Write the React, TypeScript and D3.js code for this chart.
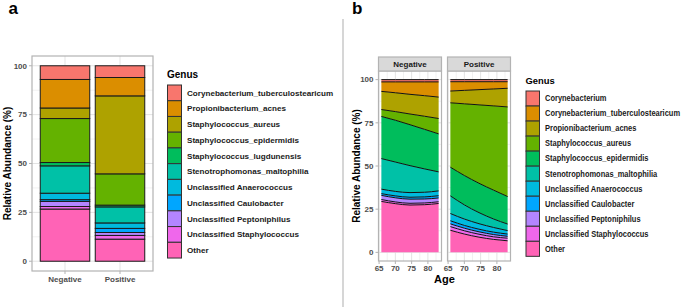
import React, { useLayoutEffect, useRef, useState } from 'react';
import * as d3 from 'd3';

const FONT = '"Liberation Sans", Arial, Helvetica, sans-serif';

// ---------- Panel a data ----------
const groupsA = ['Negative', 'Positive'];
const genusA = [
  'Corynebacterium_tuberculostearicum',
  'Propionibacterium_acnes',
  'Staphylococcus_aureus',
  'Staphylococcus_epidermidis',
  'Staphylococcus_lugdunensis',
  'Stenotrophomonas_maltophilia',
  'Unclassified Anaerococcus',
  'Unclassified Caulobacter',
  'Unclassified Peptoniphilus',
  'Unclassified Staphylococcus',
  'Other',
];
const negativeA = [7.0, 14.6, 5.4, 22.5, 1.7, 14.0, 3.3, 0.9, 2.6, 1.3, 26.7];
const positiveA = [6.0, 9.4, 39.9, 16.0, 0.9, 8.2, 2.8, 2.1, 1.5, 1.9, 11.3];

// ---------- Panel b data ----------
const facetsB = ['Negative', 'Positive'];
const genusB = [
  'Corynebacterium',
  'Corynebacterium_tuberculostearicum',
  'Propionibacterium_acnes',
  'Staphylococcus_aureus',
  'Staphylococcus_epidermidis',
  'Stenotrophomonas_maltophilia',
  'Unclassified Anaerococcus',
  'Unclassified Caulobacter',
  'Unclassified Peptoniphilus',
  'Unclassified Staphylococcus',
  'Other',
];
const ages = [65.7, 70, 74.5, 79, 83.3];
// one row per genus (genusB order), one value per age
const negativeB = [
  [1.3, 1.3, 1.3, 1.3, 1.3],
  [5.5, 6.3, 7.2, 8.0, 8.8],
  [10.5, 10.9, 11.4, 11.9, 12.4],
  [4.0, 5.0, 6.2, 7.6, 8.9],
  [24.4, 24.2, 23.7, 22.9, 22.0],
  [17.7, 17.0, 15.6, 13.5, 11.0],
  [2.6, 2.6, 2.7, 2.7, 2.8],
  [1.0, 1.1, 1.1, 1.2, 1.3],
  [2.4, 2.4, 2.4, 2.3, 2.2],
  [1.1, 1.0, 1.0, 1.0, 1.0],
  [29.5, 28.2, 27.4, 27.6, 28.3],
];
const positiveB = [
  [1.2, 1.2, 1.2, 1.2, 1.2],
  [5.4, 5.0, 4.6, 4.2, 3.8],
  [6.8, 7.8, 8.8, 9.8, 10.8],
  [37.3, 41.5, 45.4, 48.8, 51.9],
  [16.6, 17.0, 17.0, 16.7, 15.9],
  [10.2, 8.2, 6.4, 4.9, 3.8],
  [4.2, 3.7, 3.2, 2.7, 2.0],
  [1.8, 1.6, 1.5, 1.4, 1.3],
  [1.6, 1.5, 1.4, 1.3, 1.1],
  [2.1, 1.9, 1.7, 1.5, 1.5],
  [12.8, 10.6, 8.8, 7.5, 6.7],
];

const yTicks = [0, 25, 50, 75, 100];
const yMinor = [12.5, 37.5, 62.5, 87.5];
const ageTicks = [65, 70, 75, 80];
const ageMinor = [67.5, 72.5, 77.5, 82.5];

const palette = ['#F8766D', '#DB8E00', '#AEA200', '#64B200', '#00BD5C', '#00C1A7', '#00BADE', '#00A6FF', '#B385FF', '#EF67EB', '#FF63B6'];

const GRID = '#E3E3E3';
const BORDER = '#B3B3B3';
const TICKTXT = '#4D4D4D';

function Legend({ x, y, title, titleSize, keys, keyH, keyW, fontSize, maxRight = 10000 }: any) {
  const color = d3.scaleOrdinal<string, string>().domain(keys).range(palette);
  const lx = x + keyW + 6;
  const gRef = useRef<SVGGElement>(null);
  const [stretch, setStretch] = useState(1);
  useLayoutEffect(() => {
    if (!gRef.current) return;
    const texts = Array.from(gRef.current.querySelectorAll('text')) as SVGTextElement[];
    const w = Math.max(...texts.map((t) => t.getComputedTextLength()));
    if (w > 0) setStretch(Math.min(1, (maxRight - lx) / w));
  }, [maxRight, lx]);
  return (
    <g>
      <text x={x} y={y} fontSize={titleSize} fontWeight="bold" fill="#000" fontFamily={FONT}>{title}</text>
      {keys.map((k: string, i: number) => (
        <rect key={'r' + k} x={x + 0.5} y={y + 7 + i * keyH} width={keyW} height={keyH} fill={color(k)} stroke="#333" strokeWidth={1} />
      ))}
      <g ref={gRef} transform={`translate(${lx},0) scale(${stretch},1)`}>
        {keys.map((k: string, i: number) => (
          <text key={k} x={0} y={y + 7 + i * keyH + keyH / 2} dy="0.35em" fontSize={fontSize} fontWeight="bold" fill="#1a1a1a" fontFamily={FONT}>{k}</text>
        ))}
      </g>
    </g>
  );
}

function PanelA() {
  const x0 = 32, x1 = 153, yTop = 56, yBot = 271;
  const x = d3.scaleLinear().domain([0.4, 2.6]).range([x0, x1]);
  const y = d3.scaleLinear().domain([-5, 105]).range([yBot, yTop]);
  const color = d3.scaleOrdinal<string, string>().domain(genusA).range(palette);
  const rows = groupsA.map((g, gi) => {
    const vals = gi === 0 ? negativeA : positiveA;
    const r: any = { group: g };
    genusA.forEach((k, i) => (r[k] = vals[i]));
    return r;
  });
  const stack = d3.stack<any>().keys([...genusA].reverse());
  const series = stack(rows);
  const bw = 0.9;
  return (
    <g>
      <rect x={x0} y={yTop} width={x1 - x0} height={yBot - yTop} fill="#fff" />
      {yMinor.map((t) => <line key={'m' + t} x1={x0} x2={x1} y1={y(t)} y2={y(t)} stroke={GRID} strokeWidth={0.5} />)}
      {yTicks.map((t) => <line key={'M' + t} x1={x0} x2={x1} y1={y(t)} y2={y(t)} stroke={GRID} strokeWidth={1} />)}
      {groupsA.map((g, i) => <line key={g} x1={x(i + 1)} x2={x(i + 1)} y1={yTop} y2={yBot} stroke={GRID} strokeWidth={1} />)}
      {series.map((s) => (
        <g key={s.key}>
          {s.map((d, i) => (
            <rect key={i} x={x(i + 1 - bw / 2)} width={x(i + 1 + bw / 2) - x(i + 1 - bw / 2)} y={y(d[1])} height={y(d[0]) - y(d[1])} fill={color(s.key)} stroke="#1a1a1a" strokeWidth={1} />
          ))}
        </g>
      ))}
      <rect x={x0} y={yTop} width={x1 - x0} height={yBot - yTop} fill="none" stroke={BORDER} strokeWidth={1.2} />
      {yTicks.map((t) => (
        <g key={t}>
          <line x1={x0 - 3} x2={x0} y1={y(t)} y2={y(t)} stroke={BORDER} />
          <text x={x0 - 5} y={y(t)} dy="0.35em" textAnchor="end" fontSize={8} fontWeight="bold" fill={TICKTXT} fontFamily={FONT}>{t}</text>
        </g>
      ))}
      {groupsA.map((g, i) => (
        <g key={g}>
          <line x1={x(i + 1)} x2={x(i + 1)} y1={yBot} y2={yBot + 3} stroke={BORDER} />
          <text x={x(i + 1)} y={yBot + 11} textAnchor="middle" fontSize={8} fontWeight="bold" fill={TICKTXT} fontFamily={FONT}>{g}</text>
        </g>
      ))}
      <text transform={`translate(11,${(yTop + yBot) / 2}) rotate(-90)`} textAnchor="middle" fontSize={10} fontWeight="bold" fill="#000" fontFamily={FONT}>Relative Abundance (%)</text>
    </g>
  );
}

function PanelB() {
  const yTop = 71, yBot = 261, stripTop = 57;
  const panels = [
    { x0: 378.5, x1: 441.5 },
    { x0: 447.5, x1: 510.5 },
  ];
  const ext = d3.extent(ages) as [number, number];
  const pad = (ext[1] - ext[0]) * 0.05;
  const y = d3.scaleLinear().domain([-5, 105]).range([yBot, yTop]);
  const color = d3.scaleOrdinal<string, string>().domain(genusB).range(palette);
  return (
    <g>
      {facetsB.map((f, fi) => {
        const { x0, x1 } = panels[fi];
        const x = d3.scaleLinear().domain([ext[0] - pad, ext[1] + pad]).range([x0, x1]);
        const data = fi === 0 ? negativeB : positiveB;
        const rows = ages.map((a, ai) => {
          const r: any = { age: a };
          genusB.forEach((k, gi) => (r[k] = data[gi][ai]));
          return r;
        });
        const series = d3.stack<any>().keys([...genusB].reverse())(rows);
        const area = d3.area<any>().x((d) => x(d.data.age)).y0((d) => y(d[0])).y1((d) => y(d[1])).curve(d3.curveMonotoneX);
        const line = d3.line<any>().x((d) => x(d.data.age)).y((d) => y(d[1])).curve(d3.curveMonotoneX);
        return (
          <g key={f}>
            <rect x={x0} y={yTop} width={x1 - x0} height={yBot - yTop} fill="#fff" />
            {yMinor.map((t) => <line key={'m' + t} x1={x0} x2={x1} y1={y(t)} y2={y(t)} stroke={GRID} strokeWidth={0.5} />)}
            {yTicks.map((t) => <line key={'M' + t} x1={x0} x2={x1} y1={y(t)} y2={y(t)} stroke={GRID} strokeWidth={1} />)}
            {ageMinor.map((t) => <line key={'am' + t} x1={x(t)} x2={x(t)} y1={yTop} y2={yBot} stroke={GRID} strokeWidth={0.5} />)}
            {ageTicks.map((t) => <line key={'aM' + t} x1={x(t)} x2={x(t)} y1={yTop} y2={yBot} stroke={GRID} strokeWidth={1} />)}
            {series.map((s) => <path key={s.key} d={area(s) || ''} fill={color(s.key)} stroke="none" />)}
            {series.map((s) => <path key={'l' + s.key} d={line(s) || ''} fill="none" stroke="#111" strokeWidth={1} />)}
            <rect x={x0} y={yTop} width={x1 - x0} height={yBot - yTop} fill="none" stroke={BORDER} strokeWidth={1.2} />
            <rect x={x0} y={stripTop} width={x1 - x0} height={yTop - stripTop} fill="#D9D9D9" stroke={BORDER} strokeWidth={1.2} />
            <text x={(x0 + x1) / 2} y={(stripTop + yTop) / 2} dy="0.35em" textAnchor="middle" fontSize={8} fontWeight="bold" fill="#1a1a1a" fontFamily={FONT}>{f}</text>
            {ageTicks.map((t) => (
              <g key={t}>
                <line x1={x(t)} x2={x(t)} y1={yBot} y2={yBot + 3} stroke={BORDER} />
                <text x={x(t)} y={yBot + 10} textAnchor="middle" fontSize={8} fontWeight="bold" fill={TICKTXT} fontFamily={FONT}>{t}</text>
              </g>
            ))}
          </g>
        );
      })}
      {yTicks.map((t) => (
        <g key={t}>
          <line x1={panels[0].x0 - 3} x2={panels[0].x0} y1={y(t)} y2={y(t)} stroke={BORDER} />
          <text x={panels[0].x0 - 5} y={y(t)} dy="0.35em" textAnchor="end" fontSize={8} fontWeight="bold" fill={TICKTXT} fontFamily={FONT}>{t}</text>
        </g>
      ))}
      <text transform={`translate(360,${(yTop + yBot) / 2}) rotate(-90)`} textAnchor="middle" fontSize={10} fontWeight="bold" fill="#000" fontFamily={FONT}>Relative Abundance (%)</text>
      <text x={(panels[0].x0 + panels[1].x1) / 2} y={283} textAnchor="middle" fontSize={11} fontWeight="bold" fill="#000" fontFamily={FONT}>Age</text>
    </g>
  );
}

export default function App() {
  return (
    <svg width={685} height={307} style={{ position: 'absolute', left: 0, top: 0, background: '#fff' }} fontFamily={FONT}>
      <rect width={685} height={307} fill="#fff" />
      <text x={8.5} y={14} fontSize={17} fontWeight="bold" fill="#000">a</text>
      <text x={352} y={14} fontSize={17} fontWeight="bold" fill="#000">b</text>
      <line x1={343} x2={343} y1={19} y2={307} stroke="#C8C8C8" strokeWidth={1.5} />
      <PanelA />
      <Legend x={167} y={78} title="Genus" titleSize={10} keys={genusA} keyH={15.73} keyW={14} fontSize={8.1} />
      <PanelB />
      <Legend x={525.5} y={84} title="Genus" titleSize={9.4} keys={genusB} keyH={15.03} keyW={13.5} fontSize={8.2} maxRight={680} />
    </svg>
  );
}
